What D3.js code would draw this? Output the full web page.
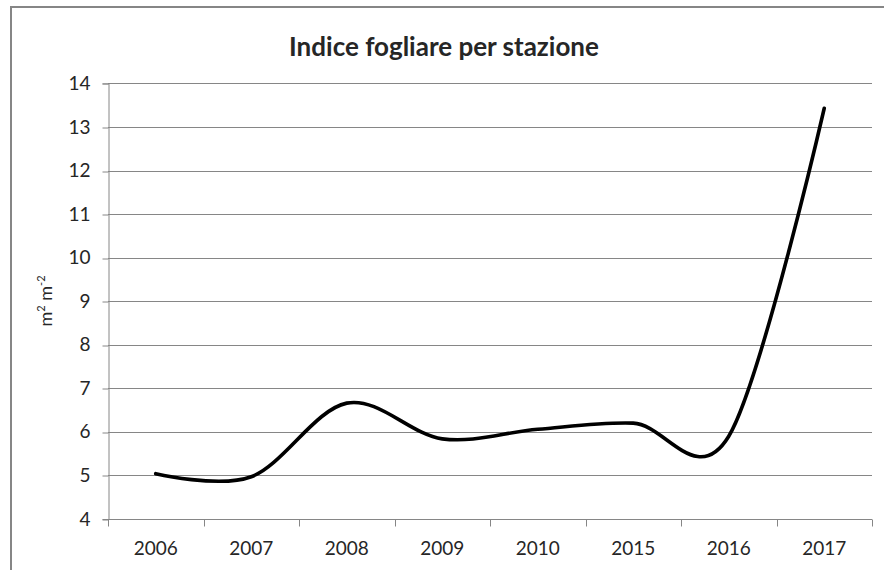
<!DOCTYPE html>
<html>
<head>
<meta charset="utf-8">
<script src="https://cdn.jsdelivr.net/npm/d3@7"></script>
<style>
  html, body { margin: 0; padding: 0; background: #fff; }
  svg { display: block; }
  text { font-family: Lato, "Open Sans", sans-serif; fill: #262626; }
</style>
</head>
<body>
<svg id="chart" width="884" height="570"></svg>
<script>
// Leaf area index per station, by year
const years = ["2006", "2007", "2008", "2009", "2010", "2015", "2016", "2017"];
const lai = [5.04, 4.97, 6.66, 5.84, 6.06, 6.20, 5.90, 13.43];
const yTicks = [4, 5, 6, 7, 8, 9, 10, 11, 12, 13, 14];
const chartTitle = "Indice fogliare per stazione";

const svg = d3.select("#chart");
const gridColor = "#868686";

// Outer frame of the chart area
svg.append("rect")
  .attr("x", 11).attr("y", 7)
  .attr("width", 900).attr("height", 600)
  .attr("fill", "none")
  .attr("stroke", gridColor)
  .attr("stroke-width", 2);

const plot = { left: 108, right: 872, top: 83.4, bottom: 519 };

const x = d3.scaleBand()
  .domain(years)
  .range([plot.left, plot.right])
  .paddingInner(0).paddingOuter(0);

const y = d3.scaleLinear()
  .domain([4, 14])
  .range([plot.bottom, plot.top]);

// Horizontal gridlines
svg.append("g")
  .selectAll("line")
  .data(yTicks.slice(1))
  .join("line")
  .attr("x1", plot.left).attr("x2", plot.right)
  .attr("y1", d => Math.round(y(d)) + 0.5)
  .attr("y2", d => Math.round(y(d)) + 0.5)
  .attr("stroke", gridColor)
  .attr("stroke-width", 1);

// Y axis
const yAxis = svg.append("g")
  .attr("transform", `translate(${plot.left + 0.5},0)`)
  .call(d3.axisLeft(y).tickValues(yTicks).tickSize(6).tickPadding(12).tickFormat(d3.format("d")));
yAxis.select(".domain").attr("stroke", gridColor);
yAxis.selectAll(".tick line").attr("stroke", gridColor)
  .attr("transform", d => `translate(0,${Math.round(y(d)) + 0.5 - y(d)})`);
yAxis.selectAll(".tick text")
  .style("font-size", "19px")
  .attr("fill", "#262626");

// X axis: ticks on category boundaries, labels centred in each band
const xAxis = svg.append("g")
  .attr("transform", `translate(0,${Math.round(plot.bottom) + 0.5})`);
xAxis.append("line")
  .attr("x1", plot.left).attr("x2", plot.right)
  .attr("stroke", gridColor);
const boundaries = years.map(d => x(d)).concat([x(years[years.length - 1]) + x.bandwidth()]);
xAxis.selectAll("line.tick")
  .data(boundaries)
  .join("line")
  .attr("class", "tick")
  .attr("x1", d => Math.round(d) + 0.5).attr("x2", d => Math.round(d) + 0.5)
  .attr("y1", 0).attr("y2", 7)
  .attr("stroke", gridColor);
xAxis.selectAll("text")
  .data(years)
  .join("text")
  .attr("x", d => x(d) + x.bandwidth() / 2)
  .attr("y", 35)
  .attr("text-anchor", "middle")
  .style("font-size", "19px")
  .text(d => d);

// Y axis title
const yLabel = svg.append("text")
  .attr("transform", "translate(52,301) rotate(-90)")
  .attr("text-anchor", "middle")
  .style("font-size", "18px");
yLabel.append("tspan").text("m");
yLabel.append("tspan").attr("dy", -7).style("font-size", "11px").text("2");
yLabel.append("tspan").attr("dy", 7).text(" m");
yLabel.append("tspan").attr("dy", -7).style("font-size", "11px").text("-2");

// Chart title
svg.append("text")
  .attr("x", 444).attr("y", 56)
  .attr("text-anchor", "middle")
  .style("font-size", "26px")
  .style("font-weight", "bold")
  .attr("fill", "#000")
  .text(chartTitle);

// Smoothed series line
const line = d3.line()
  .x((d, i) => x(years[i]) + x.bandwidth() / 2)
  .y(d => y(d))
  .curve(d3.curveCardinal.tension(0));

svg.append("path")
  .datum(lai)
  .attr("d", line)
  .attr("fill", "none")
  .attr("stroke", "#000")
  .attr("stroke-width", 3.6)
  .attr("stroke-linecap", "round")
  .attr("stroke-linejoin", "round");
</script>
</body>
</html>
